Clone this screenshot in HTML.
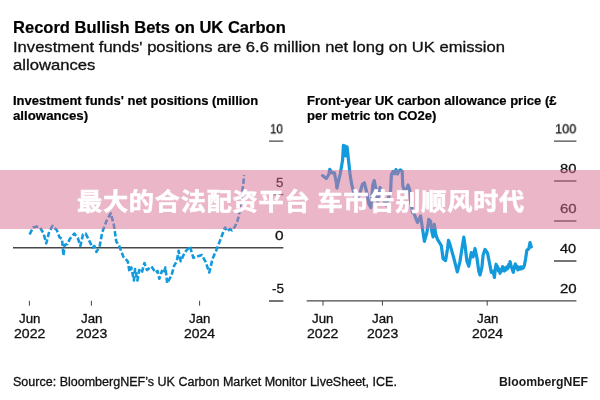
<!DOCTYPE html>
<html lang="zh"><head><meta charset="utf-8"><title>Record Bullish Bets on UK Carbon</title>
<style>
html,body{margin:0;padding:0;background:#fff;}
body{width:600px;height:400px;position:relative;overflow:hidden;font-family:"Liberation Sans","Noto Sans CJK SC",sans-serif;color:#000;}
.t{position:absolute;white-space:nowrap;line-height:1;transform-origin:0 0;will-change:transform;}
.yl,.xl,.sub,.src{-webkit-text-stroke:0.3px #111;}
.title,.ct{-webkit-text-stroke:0.2px #000;}
svg{position:absolute;left:0;top:0;}
.band{position:absolute;left:0;top:170px;width:600px;height:59.4px;background:rgba(217,109,147,0.5);}
.wm{position:absolute;left:1.4px;top:170px;width:600px;height:59.4px;line-height:63.6px;text-align:center;color:#fff;font-weight:bold;font-size:24.2px;font-family:"Liberation Sans","Noto Sans CJK SC",sans-serif;white-space:nowrap;-webkit-text-stroke:0.6px #fff;word-spacing:-0.6px;letter-spacing:0.75px;transform:scaleX(1.04);transform-origin:300.5px 0;}
</style></head><body>
<div class="t title" style="left:12.77px;top:19px;font-size:16.3px;font-weight:bold;color:#000;transform:translateY(-0.40px) scaleX(1.0151)">Record Bullish Bets on UK Carbon</div>
<div class="t sub" style="left:12.50px;top:40px;font-size:14.6px;font-weight:normal;color:#111;transform:translateY(0.04px) scaleX(1.1370)">Investment funds' positions are 6.6 million net long on UK emission</div>
<div class="t sub" style="left:13.08px;top:58px;font-size:14.6px;font-weight:normal;color:#111;transform:translateY(-0.36px) scaleX(1.1414)">allowances</div>
<div class="t ct" style="left:12.53px;top:95px;font-size:12px;font-weight:bold;color:#000;transform:translateY(-0.16px) scaleX(1.0843)">Investment funds' net positions (million</div>
<div class="t ct" style="left:12.91px;top:110px;font-size:12px;font-weight:bold;color:#000;transform:translateY(-0.16px) scaleX(1.1046)">allowances)</div>
<div class="t ct" style="left:306.63px;top:95px;font-size:12px;font-weight:bold;color:#000;transform:translateY(-0.16px) scaleX(1.0843)">Front-year UK carbon allowance price (£</div>
<div class="t ct" style="left:306.68px;top:110px;font-size:12px;font-weight:bold;color:#000;transform:translateY(-0.16px) scaleX(1.0908)">per metric ton CO2e)</div>
<div class="t yl" style="left:270.28px;top:122px;font-size:13px;font-weight:normal;color:#111;transform:translateY(0.30px) scaleX(0.8856)">10</div>
<div class="t yl" style="left:276.08px;top:176px;font-size:13px;font-weight:normal;color:#111;transform:translateY(-0.30px) scaleX(1.0323)">5</div>
<div class="t yl" style="left:274.82px;top:229px;font-size:13px;font-weight:normal;color:#111;transform:translateY(-0.00px) scaleX(1.1846)">0</div>
<div class="t yl" style="left:271.58px;top:282px;font-size:13px;font-weight:normal;color:#111;transform:translateY(0.20px) scaleX(1.0352)">-5</div>
<div class="t yl" style="left:555.21px;top:122px;font-size:13px;font-weight:normal;color:#111;transform:translateY(0.30px) scaleX(0.9779)">100</div>
<div class="t yl" style="left:560.04px;top:162px;font-size:13px;font-weight:normal;color:#111;transform:translateY(0.20px) scaleX(1.1362)">80</div>
<div class="t yl" style="left:559.80px;top:202px;font-size:13px;font-weight:normal;color:#111;transform:translateY(0.20px) scaleX(1.1533)">60</div>
<div class="t yl" style="left:560.27px;top:242px;font-size:13px;font-weight:normal;color:#111;transform:translateY(0.20px) scaleX(1.1196)">40</div>
<div class="t yl" style="left:559.80px;top:282px;font-size:13px;font-weight:normal;color:#111;transform:translateY(0.20px) scaleX(1.1533)">20</div>
<div class="t xl" style="left:18.94px;top:313px;font-size:12.4px;font-weight:normal;color:#111;transform:translateY(-0.40px) scaleX(1.0711)">Jun</div>
<div class="t xl" style="left:13.62px;top:328px;font-size:12.4px;font-weight:normal;color:#111;transform:translateY(0.40px) scaleX(1.1368)">2022</div>
<div class="t xl" style="left:80.94px;top:313px;font-size:12.4px;font-weight:normal;color:#111;transform:translateY(-0.40px) scaleX(1.0711)">Jan</div>
<div class="t xl" style="left:75.62px;top:328px;font-size:12.4px;font-weight:normal;color:#111;transform:translateY(0.40px) scaleX(1.1326)">2023</div>
<div class="t xl" style="left:189.24px;top:313px;font-size:12.4px;font-weight:normal;color:#111;transform:translateY(-0.40px) scaleX(1.0711)">Jan</div>
<div class="t xl" style="left:183.92px;top:328px;font-size:12.4px;font-weight:normal;color:#111;transform:translateY(0.40px) scaleX(1.1262)">2024</div>
<div class="t xl" style="left:312.44px;top:313px;font-size:12.4px;font-weight:normal;color:#111;transform:translateY(-0.40px) scaleX(1.0711)">Jun</div>
<div class="t xl" style="left:307.12px;top:328px;font-size:12.4px;font-weight:normal;color:#111;transform:translateY(0.40px) scaleX(1.1368)">2022</div>
<div class="t xl" style="left:372.04px;top:313px;font-size:12.4px;font-weight:normal;color:#111;transform:translateY(-0.40px) scaleX(1.0711)">Jan</div>
<div class="t xl" style="left:366.72px;top:328px;font-size:12.4px;font-weight:normal;color:#111;transform:translateY(0.40px) scaleX(1.1326)">2023</div>
<div class="t xl" style="left:476.84px;top:313px;font-size:12.4px;font-weight:normal;color:#111;transform:translateY(-0.40px) scaleX(1.0711)">Jan</div>
<div class="t xl" style="left:471.52px;top:328px;font-size:12.4px;font-weight:normal;color:#111;transform:translateY(0.40px) scaleX(1.1262)">2024</div>
<div class="t src" style="left:13.23px;top:376px;font-size:12px;font-weight:normal;color:#111;transform:translateY(-0.26px) scaleX(1.0434)">Source: BloombergNEF’s UK Carbon Market Monitor LiveSheet, ICE.</div>
<div class="t logo" style="left:498.78px;top:376px;font-size:12px;font-weight:bold;color:#1a1a1a;transform:translateY(-0.16px) scaleX(1.0197)">BloombergNEF</div>

<svg width="600" height="400" viewBox="0 0 600 400">
 <g stroke="#484848" stroke-width="1.4" fill="none">
  <path d="M269,141.1H283.3 M273.5,194.5H283.3 M13,247.8H283.3 M269,301H283.3"/>
  <path d="M554,141.1H576.4 M554,181H576.4 M554,221H576.4 M554,261H576.4 M306.7,300.9H576.4"/>
 </g>
 <g stroke="#444" stroke-width="1" fill="none">
  <path d="M29.4,300.8V305.7 M91.4,300.8V305.7 M199.6,300.8V305.7"/>
  <path d="M323,300.9V305.6 M382.4,300.9V305.6 M487.2,300.9V305.6"/>
 </g>
 <path d="M29.6,234.5 L33.1,227.5 L36.6,226.6 L40.1,227.5 L43.6,233.6 L46.3,243.3 L48.9,232.8 L52.4,225.8 L56.8,230.1 L59.4,237.1 L62.0,238.9 L63.4,255.5 L64.7,245.0 L67.3,244.1 L69.9,238.9 L74.3,233.6 L77.8,238.0 L80.4,245.9 L83.0,234.5 L85.7,233.6 L89.2,240.6 L92.7,247.7 L94.4,245.9 L96.5,252.0 L99.7,245.9 L102.3,231.9 L106.7,220.5 L110.7,213.3 L113.7,224.0 L116.3,241.5 L119.0,245.5 L123.4,256.9 L127.8,261.3 L129.5,271.8 L131.3,267.4 L133.9,280.5 L135.1,269.1 L137.4,280.5 L139.2,270.0 L141.8,272.7 L144.4,263.0 L147.0,270.0 L151.4,266.5 L155.8,272.7 L157.5,270.9 L159.3,278.8 L161.9,270.9 L163.7,273.5 L165.4,267.4 L167.2,283.2 L171.5,275.3 L174.2,265.6 L176.8,261.3 L178.6,250.8 L180.7,261.3 L184.7,252.5 L189.9,246.4 L193.4,257.8 L201.9,255.0 L205.6,261.9 L209.3,272.5 L212.5,258.8 L216.9,248.8 L220.0,240.6 L223.1,232.5 L225.0,227.5 L227.5,231.3 L230.0,228.8 L231.9,230.3 L234.4,227.5 L236.9,222.5 L238.8,216.3 L241.0,200.0 L243.3,184.0 L244.2,175.2" fill="none" stroke="#129adc" stroke-width="2.6" stroke-dasharray="5.4 2.3" stroke-linejoin="round"/>
 <path d="M322.5,175.6 L326.3,178.5 L328.8,174.5 L329.8,169.4 L331.9,172.8 L334.4,172.8 L336.3,182.5 L336.9,188.1 L340.3,173.5 L342.6,160.0 L343.4,145.4 L345.2,146.0 L345.7,156.0 L346.3,146.6 L347.1,147.0 L348.5,160.0 L350.0,174.0 L351.6,184.0 L353.1,190.0 L356.0,200.0 L359.0,196.0 L362.5,184.0 L364.4,182.8 L366.3,190.5 L368.8,203.8 L370.8,207.5 L372.8,185.0 L374.2,180.6 L375.9,188.8 L377.8,201.3 L380.0,187.5 L383.0,198.0 L386.0,205.0 L390.6,191.3 L391.4,174.5 L393.0,171.5 L394.5,173.8 L396.0,169.6 L397.5,174.0 L399.0,171.0 L400.5,169.9 L402.2,171.5 L402.8,186.0 L405.0,192.5 L408.1,185.0 L409.6,189.4 L410.6,201.3 L412.5,212.5 L413.8,213.1 L417.5,222.5 L420.6,216.0 L422.5,228.8 L424.4,241.3 L426.9,232.5 L428.8,219.4 L430.6,221.3 L431.9,231.9 L433.1,236.9 L434.4,224.4 L435.6,233.8 L437.5,239.4 L441.3,245.6 L443.1,258.8 L445.6,260.6 L447.5,248.8 L448.5,240.3 L450.3,245.6 L453.5,257.0 L457.3,271.9 L460.0,261.3 L462.5,245.0 L463.8,237.2 L465.0,245.0 L466.9,261.3 L468.8,266.3 L471.3,252.5 L473.1,256.9 L475.0,248.5 L476.9,257.5 L478.8,271.3 L480.0,275.0 L481.9,267.5 L483.1,255.0 L485.0,249.4 L487.5,253.1 L489.4,262.5 L491.3,272.5 L493.1,271.3 L494.4,277.5 L495.4,268.0 L496.1,264.2 L497.0,268.5 L497.6,266.5 L498.4,271.0 L499.2,269.0 L500.0,273.3 L500.9,269.5 L501.6,271.0 L502.6,266.6 L503.4,269.5 L504.4,271.0 L505.2,268.0 L506.0,269.8 L506.9,266.8 L507.8,268.5 L508.8,264.5 L509.4,266.5 L510.1,261.6 L511.0,266.0 L511.9,268.0 L512.6,270.5 L513.3,272.3 L514.2,268.0 L515.3,264.0 L516.2,267.5 L517.0,266.2 L517.8,270.0 L518.8,267.5 L519.6,269.0 L520.6,267.0 L521.4,268.8 L522.4,266.8 L523.2,268.0 L524.4,265.4 L525.6,258.8 L526.9,250.0 L528.8,248.8 L530.0,242.5 L531.3,246.9" fill="none" stroke="#129adc" stroke-width="3.2" stroke-linejoin="round" stroke-linecap="round"/>
</svg>

<div class="band"></div>
<div class="wm">最大的合法配资平台 车市告别顺风时代</div>
</body></html>
